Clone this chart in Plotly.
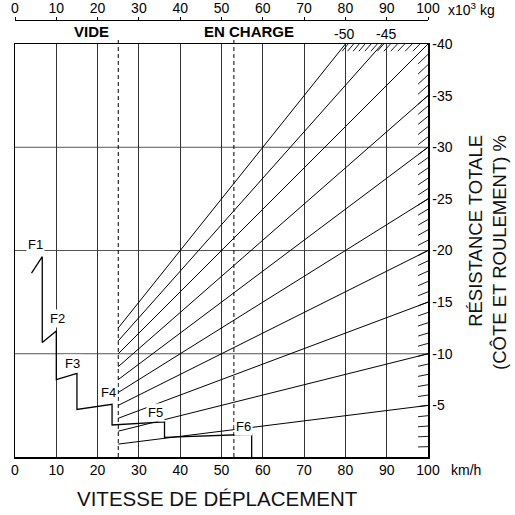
import plotly.graph_objects as go
import numpy as np

# ---------------- data ----------------
speed_ticks = list(range(0, 101, 10))          # km/h
weight_ticks = list(range(0, 101, 10))         # x10^3 kg
resistance_lines = [5, 10, 15, 20, 25, 30, 35, 40, 45, 50]   # % total resistance
resistance_ticks = [5, 10, 15, 20, 25, 30, 35, 40]
resistance_ticktext = ["-5", "-10", "-15", "-20", "-25", "-30", "-35", "-40"]
grid_rimpull = [10, 20, 30]
empty_weight = 25      # VIDE
loaded_weight = 53     # EN CHARGE

# rimpull curve (speed km/h, rimpull in chart units)
curve_speed = [4.0, 6.6, 6.6, 10.0, 10.0, 15.0, 15.0, 23.5, 23.5, 36.2, 36.2, 57.3, 57.3]
curve_rimpull = [17.8, 19.4, 11.1, 12.2, 7.5, 8.1, 4.6, 5.1, 3.1, 3.4, 1.9, 2.2, 0.0]

gear_names = ["F1", "F2", "F3", "F4", "F5", "F6"]
gear_label_speed = [5.0, 10.3, 13.9, 22.6, 34.1, 55.3]
gear_label_rimpull = [20.6, 13.4, 9.1, 6.2, 4.3, 3.0]

top_labels = ["-50", "-45"]
top_label_x = [79.7, 89.8]

FONT = "Liberation Sans, Arial, Helvetica, sans-serif"
YMAX = 40
W_PX, H_PX = 515, 515
ML, MR, MT, MB = 15, 87, 20, 58
plot_w = W_PX - ML - MR
plot_h = H_PX - MT - MB
ydom_top = (H_PX - MB - 44) / plot_h


def px_x(p):
    return (p - ML) / plot_w


def px_y(p):
    return (H_PX - MB - p) / plot_h


fig = go.Figure()

# diagonal resistance lines, starting at empty weight
dx, dy = [], []
for r in resistance_lines:
    x_end = min(100.0, YMAX * 100.0 / r)
    dx += [empty_weight, x_end, None]
    dy += [r * empty_weight / 100.0, r * x_end / 100.0, None]
fig.add_trace(go.Scatter(x=dx, y=dy, mode="lines", line=dict(color="black", width=1),
                         hoverinfo="skip", showlegend=False))

# hatching on right border (integer resistances) and top border
hx, hy = [], []
for r in range(1, 41):
    hx += [97.6, 100.0, None]
    hy += [r * 0.976, r * 1.0, None]
for r in np.arange(40.8, 50.0, 0.8):
    hx += [3930.0 / r, 4000.0 / r, None]
    hy += [39.3, 40.0, None]
fig.add_trace(go.Scatter(x=hx, y=hy, mode="lines", line=dict(color="black", width=0.9),
                         hoverinfo="skip", showlegend=False))

# rimpull curve
fig.add_trace(go.Scatter(x=curve_speed, y=curve_rimpull, mode="lines",
                         line=dict(color="black", width=1.3), hoverinfo="skip", showlegend=False))

# invisible trace to activate top weight axis
fig.add_trace(go.Scatter(x=[empty_weight, loaded_weight], y=[0, 0], xaxis="x2", mode="markers",
                         marker=dict(opacity=0), hoverinfo="skip", showlegend=False))

shapes = []
for g in grid_rimpull:
    shapes.append(dict(type="line", xref="x", yref="y", x0=0, x1=100, y0=g, y1=g,
                       line=dict(color="#555", width=1), layer="below"))
for w in [empty_weight, loaded_weight]:
    shapes.append(dict(type="line", xref="x2", yref="paper", x0=w, x1=w, y0=0, y1=ydom_top + 4 / plot_h,
                       line=dict(color="black", width=1, dash="4px,3px")))
fig.update_layout(shapes=shapes)

ann = []
for name, sx, sy in zip(gear_names, gear_label_speed, gear_label_rimpull):
    ann.append(dict(x=sx, y=sy, xref="x", yref="y", text=name, showarrow=False,
                    xanchor="center", yanchor="middle",
                    font=dict(size=13, color="black", family=FONT), bgcolor="white", borderpad=1))
for t, xv in zip(top_labels, top_label_x):
    ann.append(dict(x=xv, y=px_y(34), xref="x", yref="paper", text=t, showarrow=False,
                    xanchor="center", yanchor="middle",
                    font=dict(size=14, color="black", family=FONT)))
ann.append(dict(x=18.5, y=px_y(31), xref="x", yref="paper", text="<b>VIDE</b>",
                xanchor="center", yanchor="middle",
                showarrow=False, font=dict(size=15, color="black", family=FONT)))
ann.append(dict(x=56.7, y=px_y(31), xref="x", yref="paper", text="<b>EN CHARGE</b>",
                xanchor="center", yanchor="middle",
                showarrow=False, font=dict(size=15, color="black", family=FONT)))
ann.append(dict(x=px_x(446), y=px_y(9), xref="paper", yref="paper",
                text="x10<sup>3</sup> kg", showarrow=False, xanchor="left", yanchor="middle",
                font=dict(size=14, color="black", family=FONT)))
ann.append(dict(x=px_x(449), y=px_y(470), xref="paper", yref="paper",
                text="km/h", showarrow=False, xanchor="left", yanchor="middle",
                font=dict(size=14, color="black", family=FONT)))
ann.append(dict(x=px_x(217.5), y=px_y(499), xref="paper", yref="paper",
                text="VITESSE DE DÉPLACEMENT", showarrow=False, xanchor="center", yanchor="middle",
                font=dict(size=20.5, color="#111", family=FONT)))
ann.append(dict(x=px_x(488), y=px_y(253), xref="paper", yref="paper",
                text="RÉSISTANCE TOTALE<br>(CÔTE ET ROULEMENT) %", showarrow=False, textangle=-90,
                xanchor="center", yanchor="middle",
                align="right", font=dict(size=18.5, color="#111", family=FONT)))
fig.update_layout(annotations=ann)

fig.update_layout(
    width=W_PX, height=H_PX,
    autosize=False,
    margin=dict(l=ML, r=MR, t=MT, b=MB, pad=0, autoexpand=False),
    paper_bgcolor="white", plot_bgcolor="white",
    font=dict(family=FONT, size=14, color="black"),
    xaxis=dict(range=[0, 100], tickvals=speed_ticks, ticktext=[str(v) for v in speed_ticks],
               showgrid=True, gridcolor="#333", gridwidth=1, zeroline=False,
               showline=True, linecolor="black", linewidth=1.5, mirror=True, automargin=False,
               ticks="", tickfont=dict(size=14), fixedrange=True),
    xaxis2=dict(range=[0, 100], overlaying="x", side="top", anchor="free", position=1.0,
                tickvals=weight_ticks, ticktext=[str(v) for v in weight_ticks], automargin=False,
                showgrid=False, zeroline=False, showline=True, linecolor="black", linewidth=1,
                ticks="outside", ticklen=3, tickcolor="black", tickfont=dict(size=14),
                ticklabelstandoff=-2, fixedrange=True),
    yaxis=dict(range=[0, YMAX], domain=[0, ydom_top], side="right", automargin=False,
               tickvals=resistance_ticks, ticktext=resistance_ticktext,
               showgrid=False, zeroline=False, showline=True, linecolor="black", linewidth=1.5,
               mirror=True, ticks="", tickfont=dict(size=14), fixedrange=True),
)

fig.write_html("out.html", config={"responsive": False, "displayModeBar": False, "staticPlot": True},
               post_script="document.body.style.margin='0';document.body.style.overflow='hidden';")
